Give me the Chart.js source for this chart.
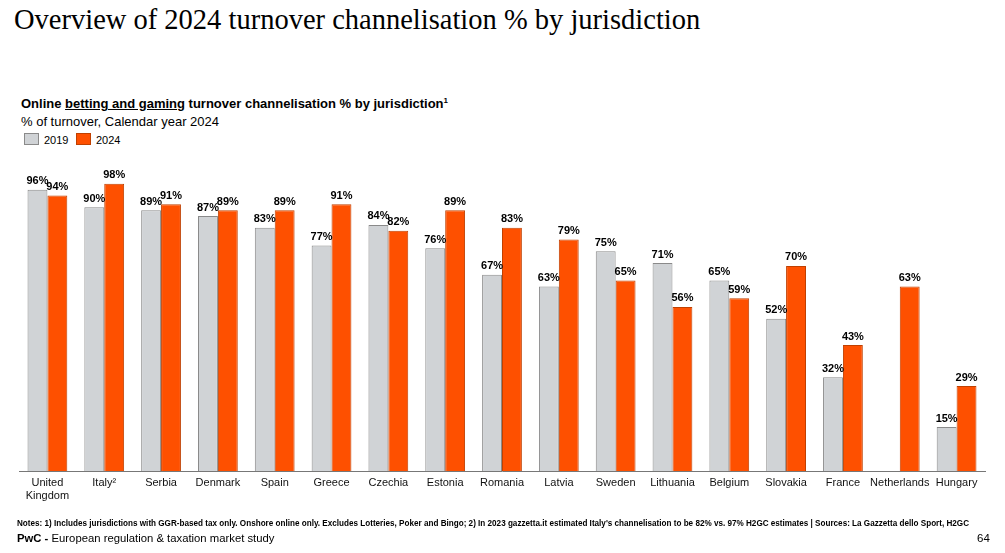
<!DOCTYPE html>
<html>
<head>
<meta charset="utf-8">
<script src="https://cdn.jsdelivr.net/npm/chart.js@4/dist/chart.umd.min.js"></script>
<style>
  body { margin: 0; width: 1005px; height: 553px; background: #fff; position: relative; overflow: hidden; font-family: "Liberation Sans", Arial, sans-serif; color: #000; }
  .abs { position: absolute; white-space: nowrap; }
  #title { left: 14px; top: 4px; font-family: "Liberation Serif", "DejaVu Serif", serif; font-size: 28.5px; color: #000; }
  #sub1 { left: 21px; top: 96px; font-size: 13px; font-weight: bold; }
  #sub2 { left: 21px; top: 114px; font-size: 13px; }
  .leg { top: 133px; font-size: 11px; }
  .box { display: inline-block; width: 13px; height: 10px; vertical-align: -1px; margin-right: 5px; }
  #notes { left: 17px; top: 519px; font-size: 8.15px; font-weight: bold; }
  #foot { left: 17px; top: 532px; font-size: 11.3px; }
  #page { left: 977px; top: 532px; font-size: 11.5px; }
  #wrap { position: absolute; left: 0; top: 140px; width: 1005px; height: 400px; }
</style>
</head>
<body>
<div id="title" class="abs">Overview of 2024 turnover channelisation % by jurisdiction</div>
<div id="sub1" class="abs">Online <u>betting and gaming</u> turnover channelisation % by jurisdiction<sup style="font-size:8px">1</sup></div>
<div id="sub2" class="abs">% of turnover, Calendar year 2024</div>
<div class="abs leg" style="left:24px"><span class="box" style="background:#d0d3d6;border:1px solid #8a8a8a"></span>2019</div>
<div class="abs leg" style="left:76px"><span class="box" style="background:#fe5000;border:1px solid #c04000"></span>2024</div>
<div id="wrap"><canvas id="myChart"></canvas></div>
<div id="notes" class="abs">Notes: 1) Includes jurisdictions with GGR-based tax only. Onshore online only. Excludes Lotteries, Poker and Bingo; 2) In 2023 gazzetta.it estimated Italy's channelisation to be 82% vs. 97% H2GC estimates | Sources: La Gazzetta dello Sport, H2GC</div>
<div id="foot" class="abs"><b>PwC -</b> European regulation &amp; taxation market study</div>
<div id="page" class="abs">64</div>
<script>
// turnover channelisation by jurisdiction
var countries = [["United", "Kingdom"], "Italy²", "Serbia", "Denmark", "Spain", "Greece", "Czechia", "Estonia",
  "Romania", "Latvia", "Sweden", "Lithuania", "Belgium", "Slovakia", "France", "Netherlands", "Hungary"];
var values2019 = [96, 90, 89, 87, 83, 77, 84, 76, 67, 63, 75, 71, 65, 52, 32, null, 15];
var values2024 = [94, 98, 91, 89, 89, 91, 82, 89, 83, 79, 65, 56, 59, 70, 43, 63, 29];

// labels above each bar
var barLabels = {
  id: "barLabels",
  afterDatasetsDraw: function(chart) {
    var ctx = chart.ctx;
    ctx.save();
    ctx.font = "bold 11px 'Liberation Sans', Arial, sans-serif";
    ctx.fillStyle = "#000";
    ctx.textAlign = "center";
    ctx.textBaseline = "bottom";
    chart.data.datasets.forEach(function(ds, i) {
      chart.getDatasetMeta(i).data.forEach(function(bar, j) {
        if (ds.data[j] == null) return;
        ctx.fillText(ds.data[j] + "%", bar.x, bar.y - 3);
      });
    });
    ctx.restore();
  }
};

new Chart("myChart", {
  type: "bar",
  data: {
    labels: countries,
    datasets: [{
      label: "2019",
      data: values2019,
      backgroundColor: "#d0d3d6",
      borderColor: "#8a8a8a",
      borderWidth: 1
    }, {
      label: "2024",
      data: values2024,
      backgroundColor: "#fe5000",
      borderColor: "#c04000",
      borderWidth: 1
    }]
  },
  options: {
    responsive: true,
    maintainAspectRatio: false,
    animation: false,
    layout: { padding: { left: 19, right: 20, top: 38, bottom: 39 } },
    plugins: { legend: { display: false }, tooltip: { enabled: false } },
    datasets: { bar: { categoryPercentage: 0.7, barPercentage: 1.0 } },
    scales: {
      x: {
        grid: { display: false, drawTicks: false },
        border: { display: true, color: "#777", width: 1 },
        ticks: { color: "#111", font: { size: 11, family: "'Liberation Sans', Arial, sans-serif" }, padding: 5, maxRotation: 0, autoSkip: false },
        afterFit: function(s) { s.height = 30; }
      },
      y: { display: false, min: 0, max: 100 }
    }
  },
  plugins: [barLabels]
});
</script>
</body>
</html>
